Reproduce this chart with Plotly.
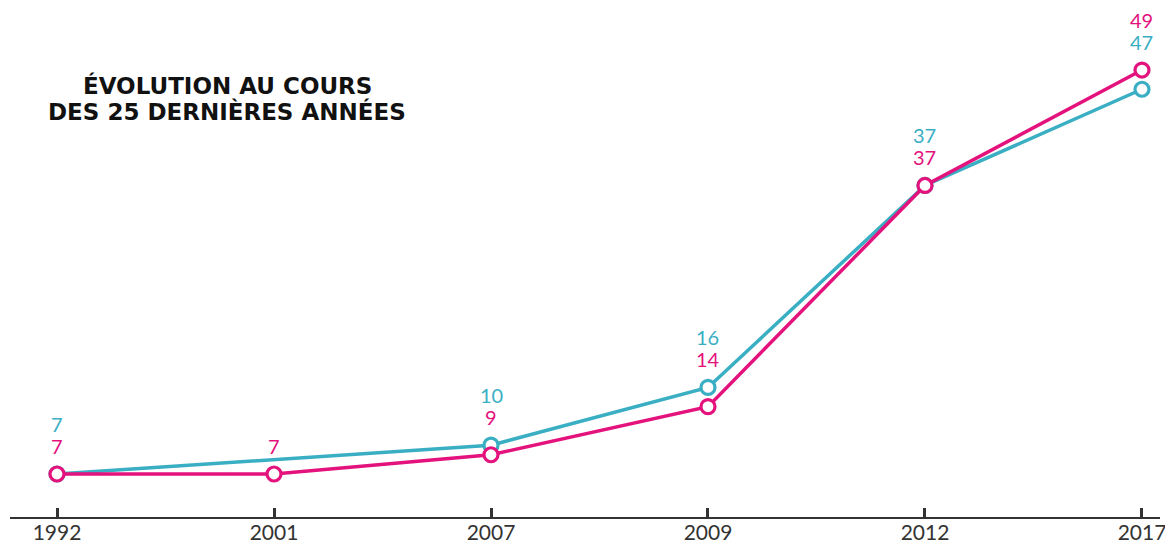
import plotly.graph_objects as go

years = ["1992", "2001", "2007", "2009", "2012", "2017"]
teal_values = [7, None, 10, 16, 37, 47]
magenta_values = [7, 7, 9, 14, 37, 49]
title_lines = ["ÉVOLUTION AU COURS", "DES 25 DERNIÈRES ANNÉES"]

TEAL = "#3AAFC3"
MAGENTA = "#E4127C"
FONT = "Lato, 'Open Sans', sans-serif"

# page body has an 8px default margin, so the figure is sized to fill the rest
W, H = 1165, 540
ML, MR, MT, MB = 2, 13, 0, 31
PW, PH = W - ML - MR, H - MT - MB

fig = go.Figure()

series = [("teal", teal_values, TEAL), ("magenta", magenta_values, MAGENTA)]
for name, vals, col in series:
    fig.add_trace(go.Scatter(
        x=years, y=vals, mode="lines+markers", name=name,
        connectgaps=True,
        line=dict(color=col, width=3.5),
        marker=dict(symbol="circle", size=14, color="white",
                    line=dict(color=col, width=3.2)),
        hoverinfo="skip", showlegend=False, cliponaxis=False,
    ))

# value labels stacked above the upper point of each year
for i, yr in enumerate(years):
    items = []
    if teal_values[i] is not None:
        items.append((teal_values[i], 1, TEAL))
    if magenta_values[i] is not None:
        items.append((magenta_values[i], 0, MAGENTA))
    items.sort(key=lambda t: (t[0], t[1]), reverse=True)
    top = items[0][0]
    shifts = [50, 28] if len(items) == 2 else [28]
    for (v, _, col), sh in zip(items, shifts):
        fig.add_annotation(x=i, y=top, text=str(v), showarrow=False,
                           yshift=sh, yanchor="middle", xanchor="center",
                           font=dict(family=FONT, size=20, color=col))

for k, line in enumerate(title_lines):
    fig.add_annotation(xref="paper", yref="paper", x=(219 - ML) / PW,
                       y=(PH - 77 - 27 * k) / PH, text=f"<b>{line}</b>",
                       showarrow=False, xanchor="center", yanchor="middle",
                       font=dict(family="'DejaVu Sans', sans-serif", size=23, color="#111111"))

fig.update_layout(
    width=W, height=H,
    margin=dict(l=ML, r=MR, t=MT, b=MB, pad=0),
    paper_bgcolor="white", plot_bgcolor="white",
    xaxis=dict(type="category", range=[-0.2166, 5.083], automargin=False,
               showgrid=False, zeroline=False, showline=True,
               linecolor="#333333", linewidth=2,
               ticks="inside", ticklen=9, tickwidth=2.5, tickcolor="#333333",
               ticklabelstandoff=-4,
               tickfont=dict(family=FONT, size=21, color="#333333")),
    yaxis=dict(range=[2.53, 55.45], visible=False, showgrid=False, zeroline=False),
)

fig.write_html("out.html")
